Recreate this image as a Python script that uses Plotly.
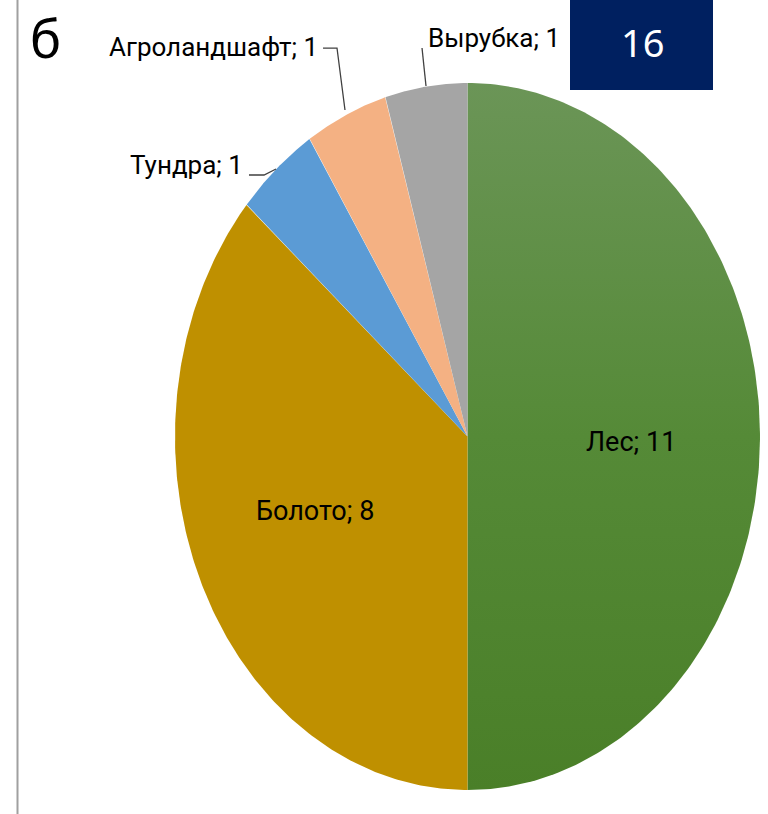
import numpy as np
import plotly.graph_objects as go

categories = ["Лес", "Болото", "Тундра", "Агроландшафт", "Вырубка"]
values = [11, 8, 1, 1, 1]
colors = ["#558A36", "#BF9000", "#5B9BD5", "#F4B183", "#A5A5A5"]

OFF = 0  # page body margin removed via post_script
W, H = 768 - OFF, 814 - OFF
FONT = "Roboto, Noto Sans, sans-serif"


def px(x, y):
    """reference-pixel position -> paper coordinates"""
    return (x - OFF) / W, 1 - (y - OFF) / H


fig = go.Figure()
total = sum(values)
start = 0.0
mids = []
for cat, v, c in zip(categories, values, colors):
    a0 = start / total * 2 * np.pi
    a1 = (start + v) / total * 2 * np.pi
    t = np.linspace(a0, a1, 200)
    xs = np.concatenate([[0], np.sin(t), [0]])
    ys = np.concatenate([[0], np.cos(t), [0]])
    kw = dict(fillcolor=c)
    if cat == "Лес":
        kw = dict(fillgradient=dict(type="vertical",
                                    colorscale=[[0, "#4A7F28"], [0.5, "#558A37"], [1, "#6B9557"]]))
    fig.add_trace(go.Scatter(x=xs, y=ys, fill="toself", mode="lines",
                             line=dict(width=0, color=c), hoverinfo="skip",
                             showlegend=False, **kw))
    mids.append((a0 + a1) / 2)
    start += v

# inside labels
for i, (r, shift) in zip((0, 1), ((0.56, 0.0), (0.555, np.radians(4)))):
    ang = mids[i] + shift
    fig.add_annotation(x=r * np.sin(ang), y=r * np.cos(ang) - 0.016,
                       text=f"{categories[i]}; {values[i]}", showarrow=False,
                       xanchor="center", yanchor="middle",
                       font=dict(family=FONT, size=27, color="#000"))

lab_font = dict(family=FONT, size=26, color="#000")
for cat, v, (x, y), anchor in [
    ("Тундра", 1, (245, 165), "right"),
    ("Агроландшафт", 1, (320, 47), "right"),
    ("Вырубка", 1, (426, 38), "left"),
]:
    xx, yy = px(x, y)
    fig.add_annotation(xref="paper", yref="paper", x=xx, y=yy, xanchor=anchor,
                       yanchor="middle", text=f"{cat}; {v}", showarrow=False, font=lab_font)

leaders = [
    [(249, 175), (264, 175), (276, 169)],
    [(323, 48), (337, 48), (345, 110)],
    [(422, 48), (426, 86)],
]
for pts in leaders:
    path = "M " + " L ".join("{:.4f},{:.4f}".format(*px(*p)) for p in pts)
    fig.add_shape(type="path", xref="paper", yref="paper", path=path,
                  line=dict(color="#404040", width=1.3))

# left border line
lx, _ = px(17.5, 0)
fig.add_shape(type="line", xref="paper", yref="paper", x0=lx, x1=lx, y0=0, y1=1,
              line=dict(color="#A0A0A0", width=2))

# navy box with "16"
bx0, by1 = px(570, 0)
bx1, by0 = px(713, 90)
fig.add_shape(type="rect", xref="paper", yref="paper", x0=bx0, x1=bx1,
              y0=by0, y1=by1, fillcolor="#002060", line=dict(width=0))
tx, ty = px(642, 42)
fig.add_annotation(xref="paper", yref="paper", x=tx, y=ty, xanchor="center", yanchor="middle",
                   text="16", showarrow=False,
                   font=dict(family="Noto Sans, sans-serif", size=38, color="#FFFFFF"))

# panel letter
bx, by = px(45, 0)
fig.add_annotation(xref="paper", yref="paper", x=bx, y=by, xanchor="center", yanchor="top",
                   text="б", showarrow=False,
                   font=dict(family="Noto Sans, sans-serif", size=52, color="#000"))

ex0, ey1 = px(175, 83)
ex1, ey0 = px(760, 790)
fig.update_layout(
    width=W, height=H, margin=dict(l=0, r=0, t=0, b=0),
    paper_bgcolor="white", plot_bgcolor="white",
    xaxis=dict(range=[-1, 1], domain=[ex0, ex1], visible=False, fixedrange=True),
    yaxis=dict(range=[-1, 1], domain=[ey0, ey1], visible=False, fixedrange=True),
)
fig.write_html("out.html", config={"displayModeBar": False},
               post_script="document.body.style.margin='0';document.body.style.overflow='hidden';")
